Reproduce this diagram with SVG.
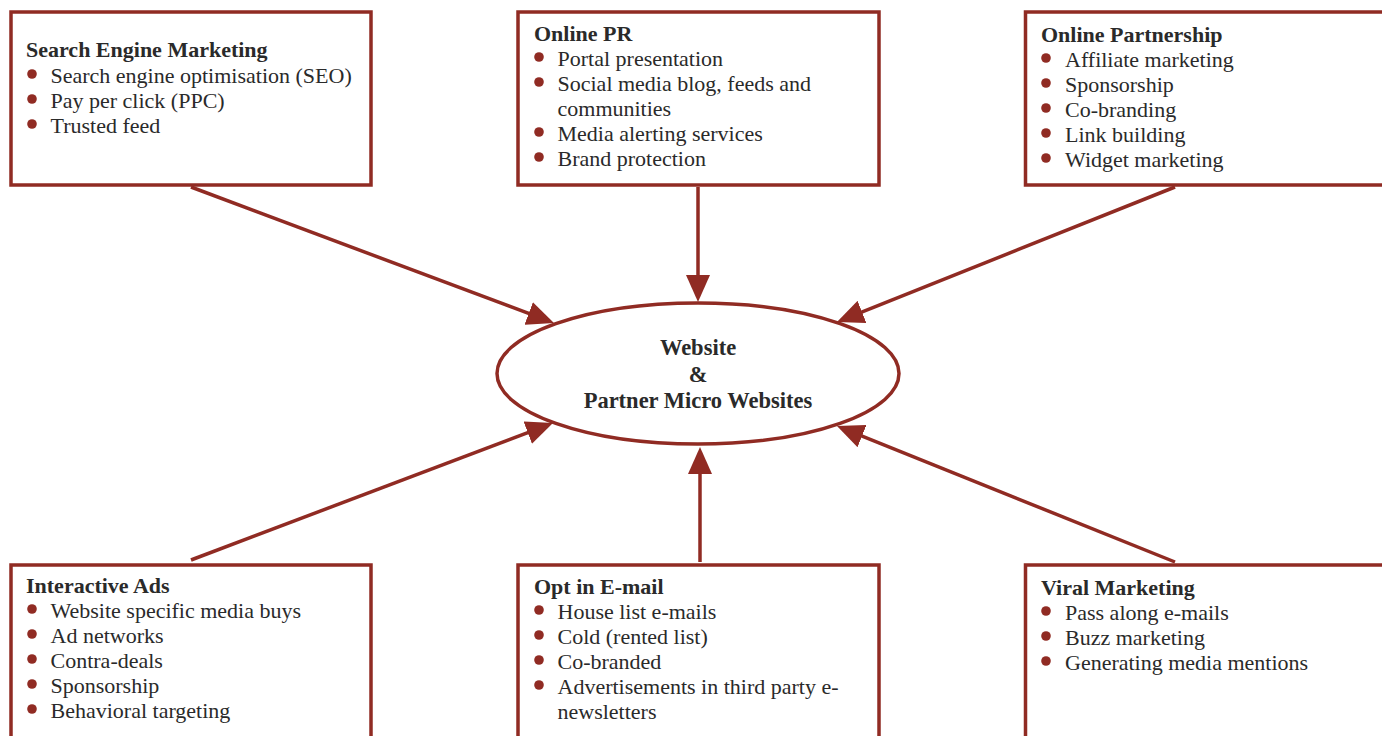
<svg xmlns="http://www.w3.org/2000/svg" width="1382" height="736" viewBox="0 0 1382 736">
<defs>
<style>
.box{fill:#fff;stroke:#902B23;stroke-width:3.5}
.t{font-family:"Liberation Serif","DejaVu Serif",serif;font-size:22px;fill:#2a2a2a}
.h{font-weight:bold}
.b{fill:#902B23}
.c{stroke:#902B23;stroke-width:3.5;fill:none;marker-end:url(#ah)}
.e{font-family:"Liberation Serif","DejaVu Serif",serif;font-size:22.5px;font-weight:bold;fill:#2a2a2a;text-anchor:middle}
</style>
<marker id="ah" markerUnits="userSpaceOnUse" markerWidth="28" markerHeight="24" refX="22" refY="12" orient="auto">
<path d="M0,0 L27,12 L0,24 Z" fill="#902B23"/>
</marker>
</defs>
<rect width="1382" height="736" fill="#fff"/>
<g id="connectors">
<line class="c" x1="191" y1="187" x2="549.3" y2="321.2"/>
<line class="c" x1="698" y1="187" x2="698" y2="297"/>
<line class="c" x1="1175" y1="187" x2="841.6" y2="320.1"/>
<line class="c" x1="191" y1="560" x2="548.3" y2="424.8"/>
<line class="c" x1="700" y1="562" x2="700" y2="452"/>
<line class="c" x1="1175" y1="562" x2="841.6" y2="427.9"/>
</g>
<g id="center">
<ellipse cx="698" cy="373.5" rx="201" ry="70.5" fill="#fff" stroke="#902B23" stroke-width="3.5"/>
<text class="e" x="698" y="355">Website</text>
<text class="e" x="698" y="382">&amp;</text>
<text class="e" x="698" y="408">Partner Micro Websites</text>
</g>
<g id="sem">
<rect class="box" x="11" y="12" width="360" height="173"/>
<text class="t h" x="26" y="57">Search Engine Marketing</text>
<circle class="b" cx="32" cy="74" r="4.8"/><text class="t" x="50.5" y="82.5">Search engine optimisation (SEO)</text>
<circle class="b" cx="32" cy="99" r="4.8"/><text class="t" x="50.5" y="107.5">Pay per click (PPC)</text>
<circle class="b" cx="32" cy="124" r="4.8"/><text class="t" x="50.5" y="132.5">Trusted feed</text>
</g>
<g id="pr">
<rect class="box" x="518" y="12" width="361" height="173"/>
<text class="t h" x="534" y="41">Online PR</text>
<circle class="b" cx="539" cy="57" r="4.8"/><text class="t" x="557.5" y="65.5">Portal presentation</text>
<circle class="b" cx="539" cy="82" r="4.8"/><text class="t" x="557.5" y="90.5">Social media blog, feeds and</text>
<text class="t" x="557.5" y="115.5">communities</text>
<circle class="b" cx="539" cy="132" r="4.8"/><text class="t" x="557.5" y="140.5">Media alerting services</text>
<circle class="b" cx="539" cy="157" r="4.8"/><text class="t" x="557.5" y="165.5">Brand protection</text>
</g>
<g id="partnership">
<rect class="box" x="1025.5" y="12" width="361" height="173"/>
<text class="t h" x="1041" y="41.5">Online Partnership</text>
<circle class="b" cx="1046" cy="58" r="4.8"/><text class="t" x="1065" y="66.5">Affiliate marketing</text>
<circle class="b" cx="1046" cy="83" r="4.8"/><text class="t" x="1065" y="91.5">Sponsorship</text>
<circle class="b" cx="1046" cy="108" r="4.8"/><text class="t" x="1065" y="116.5">Co-branding</text>
<circle class="b" cx="1046" cy="133" r="4.8"/><text class="t" x="1065" y="141.5">Link building</text>
<circle class="b" cx="1046" cy="158" r="4.8"/><text class="t" x="1065" y="166.5">Widget marketing</text>
</g>
<g id="ads">
<rect class="box" x="11" y="565" width="360" height="180"/>
<text class="t h" x="26" y="593">Interactive Ads</text>
<circle class="b" cx="32" cy="609" r="4.8"/><text class="t" x="50.5" y="617.5">Website specific media buys</text>
<circle class="b" cx="32" cy="634" r="4.8"/><text class="t" x="50.5" y="642.5">Ad networks</text>
<circle class="b" cx="32" cy="659" r="4.8"/><text class="t" x="50.5" y="667.5">Contra-deals</text>
<circle class="b" cx="32" cy="684" r="4.8"/><text class="t" x="50.5" y="692.5">Sponsorship</text>
<circle class="b" cx="32" cy="709" r="4.8"/><text class="t" x="50.5" y="717.5">Behavioral targeting</text>
</g>
<g id="email">
<rect class="box" x="518" y="565" width="361" height="180"/>
<text class="t h" x="534" y="593.5">Opt in E-mail</text>
<circle class="b" cx="539" cy="610" r="4.8"/><text class="t" x="557.5" y="618.5">House list e-mails</text>
<circle class="b" cx="539" cy="635" r="4.8"/><text class="t" x="557.5" y="643.5">Cold (rented list)</text>
<circle class="b" cx="539" cy="660" r="4.8"/><text class="t" x="557.5" y="668.5">Co-branded</text>
<circle class="b" cx="539" cy="685" r="4.8"/><text class="t" x="557.5" y="693.5">Advertisements in third party e-</text>
<text class="t" x="557.5" y="718.5">newsletters</text>
</g>
<g id="viral">
<rect class="box" x="1025.5" y="565" width="361" height="180"/>
<text class="t h" x="1041" y="595">Viral Marketing</text>
<circle class="b" cx="1046" cy="611" r="4.8"/><text class="t" x="1065" y="619.5">Pass along e-mails</text>
<circle class="b" cx="1046" cy="636" r="4.8"/><text class="t" x="1065" y="644.5">Buzz marketing</text>
<circle class="b" cx="1046" cy="661" r="4.8"/><text class="t" x="1065" y="669.5">Generating media mentions</text>
</g>
</svg>
